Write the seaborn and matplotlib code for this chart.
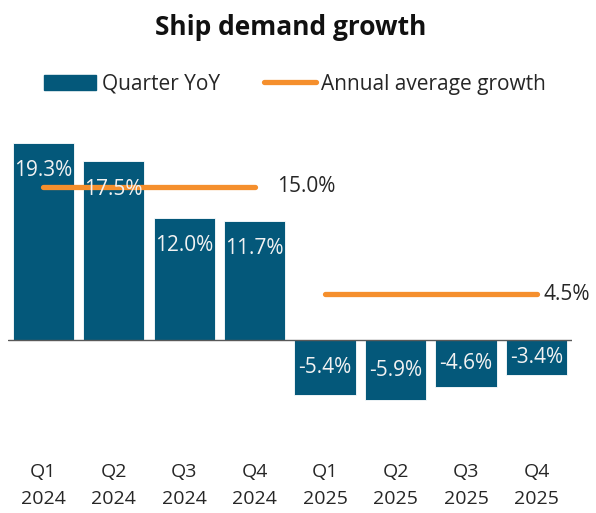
import numpy as np
import pandas as pd
import matplotlib
matplotlib.use("Agg")
import matplotlib.pyplot as plt
import seaborn as sns
from matplotlib.patches import Patch
from matplotlib.lines import Line2D

categories = ["Q1\n2024", "Q2\n2024", "Q3\n2024", "Q4\n2024",
              "Q1\n2025", "Q2\n2025", "Q3\n2025", "Q4\n2025"]
quarter_yoy = [19.3, 17.5, 12.0, 11.7, -5.4, -5.9, -4.6, -3.4]
years = [2024, 2024, 2024, 2024, 2025, 2025, 2025, 2025]
annual_years = [2024, 2025]
annual_avg = [15.0, 4.5]

BLUE = "#04587a"
ORANGE = "#f58f2d"

sns.set_theme(style="white")
plt.rcParams["font.family"] = ["Open Sans", "DejaVu Sans"]

fig = plt.figure(figsize=(5.96, 5.13), dpi=100)
ax = fig.add_axes([0.0134, 0.1025, 0.946, 0.6325])

df = pd.DataFrame({"cat": categories, "val": quarter_yoy, "year": years})
df["pos"] = np.arange(len(df))
avg_map = dict(zip(annual_years, annual_avg))
df["avg"] = df["year"].map(avg_map)

sns.barplot(data=df, x="cat", y="val", color=BLUE, saturation=1, width=0.87,
            edgecolor="white", linewidth=0.6, ax=ax)
sns.lineplot(data=df, x="pos", y="avg", units="year", estimator=None,
             color=ORANGE, linewidth=3.8, ax=ax, legend=False,
             solid_capstyle="round")

ax.axhline(0, color="#595959", linewidth=1.0, zorder=1)

for i, v in enumerate(quarter_yoy):
    if v >= 0:
        ax.annotate(f"{v:.1f}%", (i, v), xytext=(0, -20), textcoords="offset points",
                    ha="center", va="center", color="#f2f2f2", fontsize=15)
    else:
        ax.annotate(f"{v:.1f}%", (i, v / 2), ha="center", va="center",
                    color="#f2f2f2", fontsize=15)

label_offsets = [16, 5]
for yr, a, off in zip(annual_years, annual_avg, label_offsets):
    last = df[df["year"] == yr]["pos"].max()
    ax.annotate(f"{a:.1f}%", (last, a), xytext=(off, 0), textcoords="offset points",
                ha="left", va="center", color="#262626", fontsize=15,
                annotation_clip=False)

ax.set_xlim(-0.5, len(categories) - 0.5)
ax.set_ylim(-11.8, 20)
ax.set_xlabel("")
ax.set_ylabel("")
ax.set_yticks([])
ax.tick_params(axis="x", length=0, pad=2, labelsize=14, labelcolor="#262626")
for lbl in ax.get_xticklabels():
    lbl.set_linespacing(1.6)
for s in ax.spines.values():
    s.set_visible(False)

fig.text(0.487, 0.947, "Ship demand growth", ha="center", va="center",
         fontsize=19, fontweight="bold", color="#111111")

handles = [Patch(facecolor=BLUE, edgecolor=BLUE),
           Line2D([0], [0], color=ORANGE, linewidth=3.8, solid_capstyle="round")]
fig.legend(handles, ["Quarter YoY", "Annual average growth"], loc="center",
           bbox_to_anchor=(0.495, 0.836), ncol=2, frameon=False, fontsize=15,
           handlelength=2.5, handleheight=0.75, handletextpad=0.25, columnspacing=2.1,
           labelcolor="#262626")

fig.savefig("out.png", dpi=100)
